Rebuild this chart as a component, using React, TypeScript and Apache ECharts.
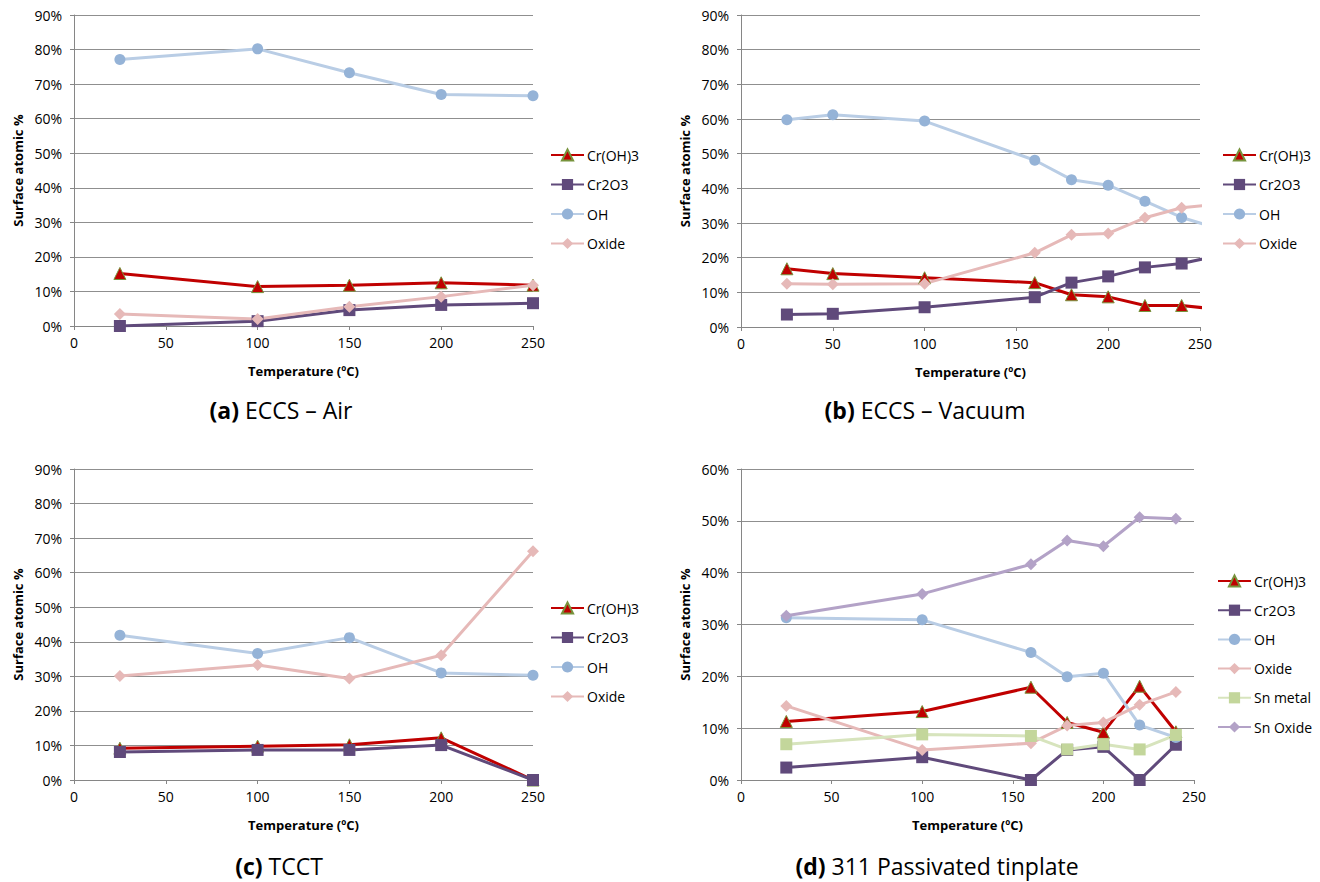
import React, { useEffect, useRef } from "react";
import * as echarts from "echarts";

// ---------- data ----------
const tempA = [25, 100, 150, 200, 250];
const a_CrOH3 = [15.2, 11.4, 11.8, 12.5, 11.8];
const a_Cr2O3 = [0.0, 1.4, 4.6, 6.1, 6.6];
const a_OH = [77.1, 80.2, 73.3, 67.0, 66.6];
const a_Oxide = [3.5, 2.0, 5.6, 8.5, 11.8];

const tempB = [25, 50, 100, 160, 180, 200, 220, 240, 260];
const b_CrOH3 = [16.8, 15.4, 14.2, 12.8, 9.3, 8.7, 6.2, 6.2, 5.1];
const b_Cr2O3 = [3.6, 3.8, 5.7, 8.6, 12.8, 14.6, 17.2, 18.3, 20.6];
const b_OH = [59.8, 61.2, 59.4, 48.1, 42.5, 40.9, 36.3, 31.6, 28.4];
const b_Oxide = [12.5, 12.3, 12.5, 21.4, 26.6, 27.0, 31.5, 34.4, 35.4];

const tempC = [25, 100, 150, 200, 250];
const c_CrOH3 = [9.2, 9.8, 10.2, 12.2, 0.0];
const c_Cr2O3 = [8.1, 8.7, 8.7, 10.1, 0.0];
const c_OH = [41.9, 36.6, 41.2, 31.0, 30.3];
const c_Oxide = [30.1, 33.3, 29.4, 36.1, 66.2];

const tempD = [25, 100, 160, 180, 200, 220, 240];
const d_CrOH3 = [11.3, 13.2, 17.9, 11.1, 9.2, 18.1, 9.3];
const d_Cr2O3 = [2.4, 4.4, 0.0, 5.8, 6.4, 0.0, 6.8];
const d_OH = [31.3, 30.9, 24.6, 19.9, 20.6, 10.6, 8.2];
const d_Oxide = [14.3, 5.8, 7.1, 10.5, 11.1, 14.5, 17.0];
const d_SnMetal = [6.9, 8.8, 8.5, 5.9, 6.9, 5.9, 8.7];
const d_SnOxide = [31.7, 35.9, 41.6, 46.2, 45.1, 50.7, 50.4];

const namesABC = ["Cr(OH)3", "Cr2O3", "OH", "Oxide"];
const namesD = ["Cr(OH)3", "Cr2O3", "OH", "Oxide", "Sn metal", "Sn Oxide"];

const captions = [
  { tag: "(a)", text: "ECCS – Air" },
  { tag: "(b)", text: "ECCS – Vacuum" },
  { tag: "(c)", text: "TCCT" },
  { tag: "(d)", text: "311 Passivated tinplate" },
];

const xTitle = "Temperature (ºC)";
const yTitle = "Surface atomic %";

// ---------- styles ----------
const FONT = "'Open Sans', 'Liberation Sans', sans-serif";
const STYLE: Record<string, any> = {
  "Cr(OH)3": { line: "#c00000", fill: "#c00000", border: "#77933c", bw: 1, symbol: "triangle", size: 12 },
  Cr2O3: { line: "#604a7b", fill: "#604a7b", border: "#604a7b", bw: 0, symbol: "rect", size: 12 },
  OH: { line: "#b9cde5", fill: "#95b3d7", border: "#95b3d7", bw: 0, symbol: "circle", size: 11 },
  Oxide: { line: "#e6b9b8", fill: "#e6b9b8", border: "#e6b9b8", bw: 0, symbol: "diamond", size: 12 },
  "Sn metal": { line: "#d7e4bd", fill: "#c3d69b", border: "#c3d69b", bw: 0, symbol: "rect", size: 12 },
  "Sn Oxide": { line: "#b3a2c7", fill: "#b3a2c7", border: "#b3a2c7", bw: 0, symbol: "diamond", size: 12 },
};

function mkSeries(name: string, xs: number[], ys: number[], idx: number) {
  const s = STYLE[name];
  return {
    type: "line",
    name,
    xAxisIndex: idx,
    yAxisIndex: idx,
    data: xs.map((x, i) => [x, ys[i]]),
    symbol: s.symbol,
    symbolSize: s.size,
    showSymbol: true,
    clip: true,
    lineStyle: { color: s.line, width: 3 },
    itemStyle: { color: s.fill, borderColor: s.border, borderWidth: s.bw },
    emphasis: { disabled: true },
  };
}

const grids = [
  { left: 74, top: 15, width: 459, height: 311 },
  { left: 741, top: 15, width: 459, height: 312 },
  { left: 74, top: 469, width: 459, height: 311 },
  { left: 741, top: 469, width: 453, height: 311 },
];
const yMax = [90, 90, 90, 60];

const legendPos = [
  { left: 550, top: 148, gap: 15.5, names: namesABC },
  { left: 1222, top: 148, gap: 15.5, names: namesABC },
  { left: 550, top: 601, gap: 15.5, names: namesABC },
  { left: 1217, top: 574, gap: 15.2, names: namesD },
];

const captionPos = [
  { x: 281, y: 410 },
  { x: 925, y: 410 },
  { x: 279, y: 866 },
  { x: 937, y: 866 },
];

export default function App() {
  const ref = useRef<HTMLDivElement>(null);
  useEffect(() => {
    if (!ref.current) return;
    const chart = echarts.init(ref.current, undefined, { renderer: "svg" });
    const axisLabel = { fontFamily: FONT, fontSize: 14, color: "#000" };
    const option: any = {
      animation: false,
      backgroundColor: "#fff",
      grid: grids.map((g) => ({ ...g, containLabel: false })),
      xAxis: grids.map((_, i) => ({
        type: "value",
        gridIndex: i,
        min: 0,
        max: 250,
        interval: 50,
        name: xTitle,
        nameLocation: "middle",
        nameGap: 38,
        nameTextStyle: { fontFamily: FONT, fontSize: 13, fontWeight: "bold", color: "#000" },
        axisLine: { show: true, onZero: false, lineStyle: { color: "#868686", width: 1 } },
        axisTick: { show: true, length: 4, lineStyle: { color: "#868686" } },
        axisLabel: { ...axisLabel, margin: 9 },
        splitLine: { show: false },
      })),
      yAxis: grids.map((_, i) => ({
        type: "value",
        gridIndex: i,
        min: 0,
        max: yMax[i],
        interval: 10,
        name: yTitle,
        nameLocation: "middle",
        nameGap: 50,
        nameTextStyle: { fontFamily: FONT, fontSize: 13, fontWeight: "bold", color: "#000" },
        axisLine: { show: true, lineStyle: { color: "#868686", width: 1 } },
        axisTick: { show: true, length: 4, lineStyle: { color: "#868686" } },
        axisLabel: { ...axisLabel, margin: 12, formatter: "{value}%" },
        splitLine: { show: true, lineStyle: { color: "#8f8f8f", width: 1 } },
      })),
      legend: legendPos.map((l) => ({
        left: l.left,
        top: l.top,
        orient: "vertical",
        padding: 0,
        itemWidth: 33,
        itemHeight: 14,
        itemGap: l.gap,
        selectedMode: false,
        data: l.names,
        textStyle: { fontFamily: FONT, fontSize: 14, color: "#000", padding: [0, 0, 0, -2] },
      })),
      series: [
        mkSeries("Cr(OH)3", tempA, a_CrOH3, 0),
        mkSeries("Cr2O3", tempA, a_Cr2O3, 0),
        mkSeries("OH", tempA, a_OH, 0),
        mkSeries("Oxide", tempA, a_Oxide, 0),
        mkSeries("Cr(OH)3", tempB, b_CrOH3, 1),
        mkSeries("Cr2O3", tempB, b_Cr2O3, 1),
        mkSeries("OH", tempB, b_OH, 1),
        mkSeries("Oxide", tempB, b_Oxide, 1),
        mkSeries("Cr(OH)3", tempC, c_CrOH3, 2),
        mkSeries("Cr2O3", tempC, c_Cr2O3, 2),
        mkSeries("OH", tempC, c_OH, 2),
        mkSeries("Oxide", tempC, c_Oxide, 2),
        mkSeries("Cr(OH)3", tempD, d_CrOH3, 3),
        mkSeries("Cr2O3", tempD, d_Cr2O3, 3),
        mkSeries("OH", tempD, d_OH, 3),
        mkSeries("Oxide", tempD, d_Oxide, 3),
        mkSeries("Sn metal", tempD, d_SnMetal, 3),
        mkSeries("Sn Oxide", tempD, d_SnOxide, 3),
      ],
      graphic: captions.map((c, i) => ({
        type: "text",
        x: captionPos[i].x,
        y: captionPos[i].y,
        style: {
          text: `{b|${c.tag}} ${c.text}`,
          align: "center",
          verticalAlign: "middle",
          fontFamily: FONT,
          fontSize: 23,
          fill: "#000",
          rich: {
            b: { fontFamily: FONT, fontSize: 23, fontWeight: "bold", fill: "#000" },
          },
        },
      })),
    };
    chart.setOption(option);
    return () => chart.dispose();
  }, []);
  return (
    <div
      ref={ref}
      style={{ position: "fixed", left: 0, top: 0, width: 1320, height: 882, background: "#fff" }}
    />
  );
}
